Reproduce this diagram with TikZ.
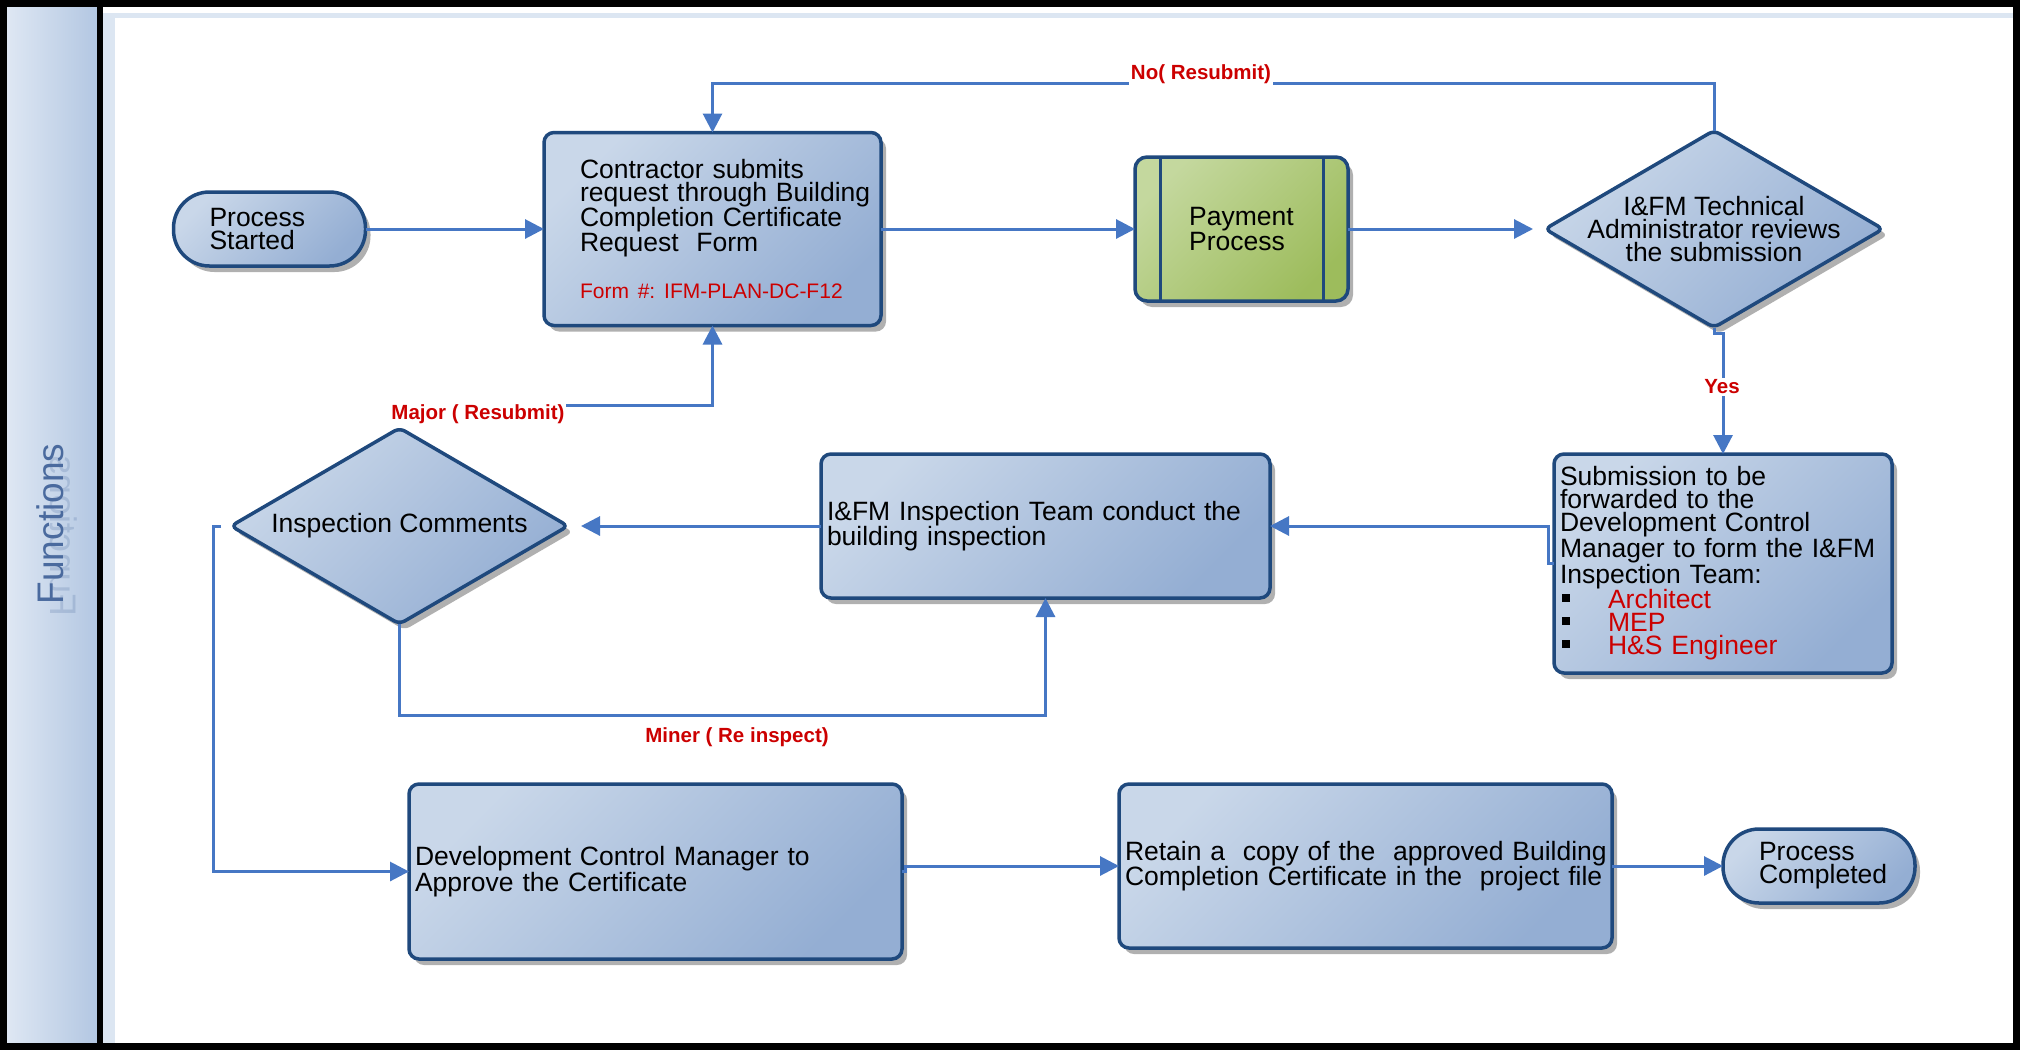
\documentclass[tikz,border=0pt]{standalone}
\usepackage{fontspec}
\setmainfont{Liberation Sans}
\usepackage{graphicx}
\usetikzlibrary{shapes.geometric,shadows,arrows.meta,calc}
\frenchspacing
\definecolor{boxlight}{HTML}{C9D7E9}
\definecolor{boxdark}{HTML}{94AED3}
\definecolor{bordercol}{HTML}{1F497D}
\definecolor{conncol}{HTML}{4677C4}
\definecolor{lblred}{HTML}{CC0000}
\definecolor{greenlight}{HTML}{C4D89E}
\definecolor{greendark}{HTML}{9DBC5C}
\definecolor{hdrlight}{HTML}{DEE7F3}
\definecolor{hdrdark}{HTML}{B3C7E2}
\definecolor{fnblue}{HTML}{4A6A9E}
\definecolor{poolband}{HTML}{DCE6F2}
\definecolor{shadowgray}{HTML}{B0B0B0}
\newcommand\blt{\makebox[48pt][l]{\hspace*{2pt}\rule[7pt]{8pt}{8pt}}}
\begin{document}
\begin{tikzpicture}[x=1pt,y=-1pt,
  every node/.style={outer sep=0pt},
  txt/.style={font=\fontsize{26.5}{23}\selectfont, text=black},
  shadowed/.style={drop shadow={shadow xshift=5pt, shadow yshift=-6pt, fill=shadowgray, opacity=1}},
  box/.style={shadowed, draw=bordercol, line width=3.5pt, rounded corners=10pt,
    top color=boxlight, bottom color=boxdark, shading angle=45, txt, align=left, inner ysep=0pt},
  paybox/.style={box, top color=greenlight, bottom color=greendark, shading angle=45, rounded corners=12pt},
  term/.style={shadowed, draw=bordercol, line width=3.5pt, rounded corners=36pt,
    top color=boxlight, bottom color=boxdark, shading angle=45, txt, align=left,
    minimum width=192pt, minimum height=74pt, inner ysep=0pt, inner xsep=36pt, text width=120pt},
  decision/.style={shadowed, diamond, draw=bordercol, line width=3.5pt, rounded corners=6pt,
    top color=boxlight, bottom color=boxdark, shading angle=45, inner sep=0pt},
  conn/.style={draw=conncol, line width=3pt, -{Triangle[length=19pt,width=19pt]}},
  lbl/.style={font=\fontsize{20.5}{22}\selectfont\bfseries, text=lblred, inner sep=2pt},
]
\useasboundingbox (0,0) rectangle (2020,1050);
% frame and lane
\fill[white] (0,0) rectangle (2020,1050);
\fill[left color=hdrlight, right color=hdrdark] (7,7) rectangle (97,1043);
\fill[poolband] (103,13) rectangle (2013,18);
\fill[poolband] (103,13) rectangle (115,1043);
\fill[black] (0,0) rectangle (2020,7);
\fill[black] (0,1043) rectangle (2020,1050);
\fill[black] (0,0) rectangle (7,1050);
\fill[black] (2013,0) rectangle (2020,1050);
\fill[black] (97,0) rectangle (103,1050);
\node[rotate=90, anchor=base, font=\fontsize{37}{40}\selectfont, text=fnblue, opacity=0.22] (fnr) at (50,536) {\scalebox{1}[-1]{Functions}};
\node[rotate=90, anchor=base, font=\fontsize{37}{40}\selectfont, text=fnblue] (fn) at (63,524) {Functions};

% nodes
\node[term] (ps) at (269.5,229) {Process\\Started};
\node[box, minimum width=337pt, minimum height=193pt, text width=265pt, inner xsep=36pt] (req) at (712.5,229)
  {Contractor submits\\\mbox{request through Building}\\Completion Certificate\\Request\ \ Form\\[24pt]\mbox{\color{lblred}\fontsize{21}{23}\selectfont Form \#: IFM-PLAN-DC-F12}};
\node[paybox, minimum width=213pt, minimum height=144pt] (pay) at (1241.5,229) {Payment\\Process};
\draw[bordercol, line width=3pt] ([xshift=25pt]pay.north west) -- ([xshift=25pt]pay.south west);
\draw[bordercol, line width=3pt] ([xshift=-25pt]pay.north east) -- ([xshift=-25pt]pay.south east);
\node[decision, minimum width=338pt, minimum height=197pt,
  label={[txt, align=center]center:I\&FM Technical\\Administrator reviews\\the submission}] (tech) at (1714,229) {};
\node[box, minimum width=338pt, minimum height=219pt, text width=326pt, inner xsep=6pt] (sub) at (1723,563.5)
  {Submission to be\\forwarded to the\\Development Control\\Manager to form the I\&FM\\Inspection Team:\\
   \blt\textcolor{lblred}{Architect}\\\blt\textcolor{lblred}{MEP}\\\blt\textcolor{lblred}{H\&S Engineer}};
\node[box, minimum width=449pt, minimum height=144pt, text width=437pt, inner xsep=6pt] (insp) at (1045.5,526)
  {I\&FM Inspection Team conduct the\\building inspection};
\node[decision, minimum width=337pt, minimum height=196pt,
  label={[txt]center:Inspection Comments}] (ic) at (399.5,526) {};
\node[box, minimum width=493pt, minimum height=175pt, text width=481pt, inner xsep=6pt] (dcm) at (655.5,871.5)
  {Development Control Manager to\\Approve the Certificate};
\node[box, minimum width=493pt, minimum height=164pt, text width=481pt, inner xsep=6pt] (ret) at (1365.5,866)
  {\mbox{Retain a\ \ copy of the\ \ approved Building}\\\mbox{Completion Certificate in the\ \ project file}};
\node[term] (pc) at (1819,866) {Process\\Completed};

% connectors
\draw[conn] (ps.east) -- (req.west);
\draw[conn] (req.east) -- (pay.west);
\draw[conn, shorten >=12pt] (pay.east) -- (tech.west);
\draw[conn] (tech.north) -- ++(0,-47) -| (req.north);
\node[lbl, fill=white] (nolbl) at (1201,74) {No( Resubmit)};
\draw[conn] (tech.south) -- ++(0,6) -| (sub.north);
\node[lbl, fill=white] (yeslbl) at (1722,387) {Yes};
\draw[conn] (sub.west) -- ++(-6,0) |- (insp.east);
\draw[conn, shorten >=13pt] (insp.west) -- (ic.east);
\coordinate (mj) at (566,405);
\draw[conn] (mj) -| (req.south);
\node[lbl] (majlbl) at (478,414) {Major ( Resubmit)};
\draw[conn] (ic.south) -- ++(0,91) -| (insp.south);
\node[lbl] (minlbl) at (737,737) {Miner ( Re inspect)};
\draw[conn, shorten <=10pt] (ic.west) -- ++(-18,0) |- (dcm.west);
\draw[conn] (dcm.east) -- ++(3,0) |- (ret.west);
\draw[conn] (ret.east) -- (pc.west);
\end{tikzpicture}
\end{document}
